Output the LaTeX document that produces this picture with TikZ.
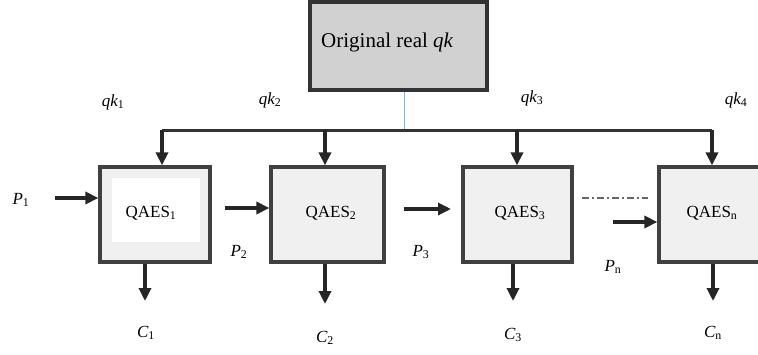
\documentclass[tikz,border=0pt]{standalone}
\usepackage{fontspec}
\setmainfont{Liberation Serif}
\usetikzlibrary{arrows.meta}
\newcommand{\sym}[2]{{\itshape #1}\textsubscript{#2}}
\definecolor{keyline}{HTML}{8FAFD0}
\begin{document}
\begin{tikzpicture}[x=1pt,y=-1pt,
  every node/.style={font=\fontsize{17}{20}\selectfont},
  block/.style={draw=black!75, line width=3.2pt, fill=black!6,
    minimum height=95pt, inner sep=0pt},
  keybox/.style={draw=black!80, line width=3.4pt, fill=black!18,
    minimum width=177pt, minimum height=88pt, inner sep=0pt},
  flow/.style={line width=3.2pt, draw=black!85,
    -{Triangle[length=13pt,width=12pt]}},
  bus/.style={line width=3pt, draw=black!80},
  lbl/.style={inner sep=0pt}]
\useasboundingbox (0,0) rectangle (758,354);

% key source
\node[keybox] (key) at (398.5,46) {};
\node[lbl, anchor=west, font=\fontsize{21}{24}\selectfont] (keytxt) at (321,42) {Original real \textit{qk}};

% encryption blocks
\node[block, minimum width=110pt] (b1) at (155,214.5) {};
\draw[draw=none, fill=white] (112,178) rectangle (200,242);
\node[lbl] (t1) at (151,213) {QAES\textsubscript{1}};
\node[block, minimum width=113pt] (b2) at (327.5,214.5) {};
\node[lbl] (t2) at (331,213) {QAES\textsubscript{2}};
\node[block, minimum width=109pt] (b3) at (517.5,214.5) {};
\node[lbl] (t3) at (520,213) {QAES\textsubscript{3}};
\node[block, minimum width=111pt] (bn) at (714.5,214.5) {};
\node[lbl] (tn) at (712,213) {QAES\textsubscript{n}};

% key distribution bus
\coordinate (bm) at (404,130);
\coordinate (k1) at (162,130);
\coordinate (k2) at (325,130);
\coordinate (k3) at (517,130);
\coordinate (k4) at (712,130);
\draw[draw=keyline, line width=1pt] (key.south -| bm) -- (bm);
\draw[bus] (k1) -- (k4);
\draw[flow] (k1) -- (k1 |- b1.north);
\draw[flow] (k2) -- (k2 |- b2.north);
\draw[flow] (k3) -- (k3 |- b3.north);
\draw[flow] (k4) -- (k4 |- bn.north);

\node[lbl] (qk1) at (113,102) {\sym{qk}{1}};
\node[lbl] (qk2) at (270,100) {\sym{qk}{2}};
\node[lbl] (qk3) at (532,98) {\sym{qk}{3}};
\node[lbl] (qk4) at (736,100) {\sym{qk}{4}};

% plaintext inputs
\coordinate (p1s) at (55,198);
\draw[flow] (p1s) -- (p1s -| b1.west);
\node[lbl] (p1) at (21,200) {\sym{P}{1}};
\coordinate (p2s) at (225,208);
\draw[flow] (p2s) -- (p2s -| b2.west);
\node[lbl] (p2) at (239,252) {\sym{P}{2}};
\coordinate (p3s) at (404,209);
\coordinate (p3e) at (451,209);
\draw[flow] (p3s) -- (p3e);
\node[lbl] (p3) at (421,252) {\sym{P}{3}};
\coordinate (dots) at (582,198);
\coordinate (dote) at (648,198);
\draw[draw=black!60, line width=2.2pt, dash pattern=on 7pt off 3pt on 2pt off 3pt] (dots) -- (dote);
\coordinate (pns) at (613,222);
\draw[flow] (pns) -- (pns -| bn.west);
\node[lbl] (pn) at (613,267) {\sym{P}{n}};

% ciphertext outputs
\coordinate (c1e) at (145,301);
\coordinate (c2e) at (325,304);
\coordinate (c3e) at (513,301);
\coordinate (cne) at (713,301);
\draw[flow] (c1e |- b1.south) -- (c1e);
\draw[flow] (c2e |- b2.south) -- (c2e);
\draw[flow] (c3e |- b3.south) -- (c3e);
\draw[flow] (cne |- bn.south) -- (cne);
\node[lbl] (c1) at (146,333) {\sym{C}{1}};
\node[lbl] (c2) at (325,338) {\sym{C}{2}};
\node[lbl] (c3) at (513,335) {\sym{C}{3}};
\node[lbl] (cn) at (713,333) {\sym{C}{n}};
\end{tikzpicture}
\end{document}
